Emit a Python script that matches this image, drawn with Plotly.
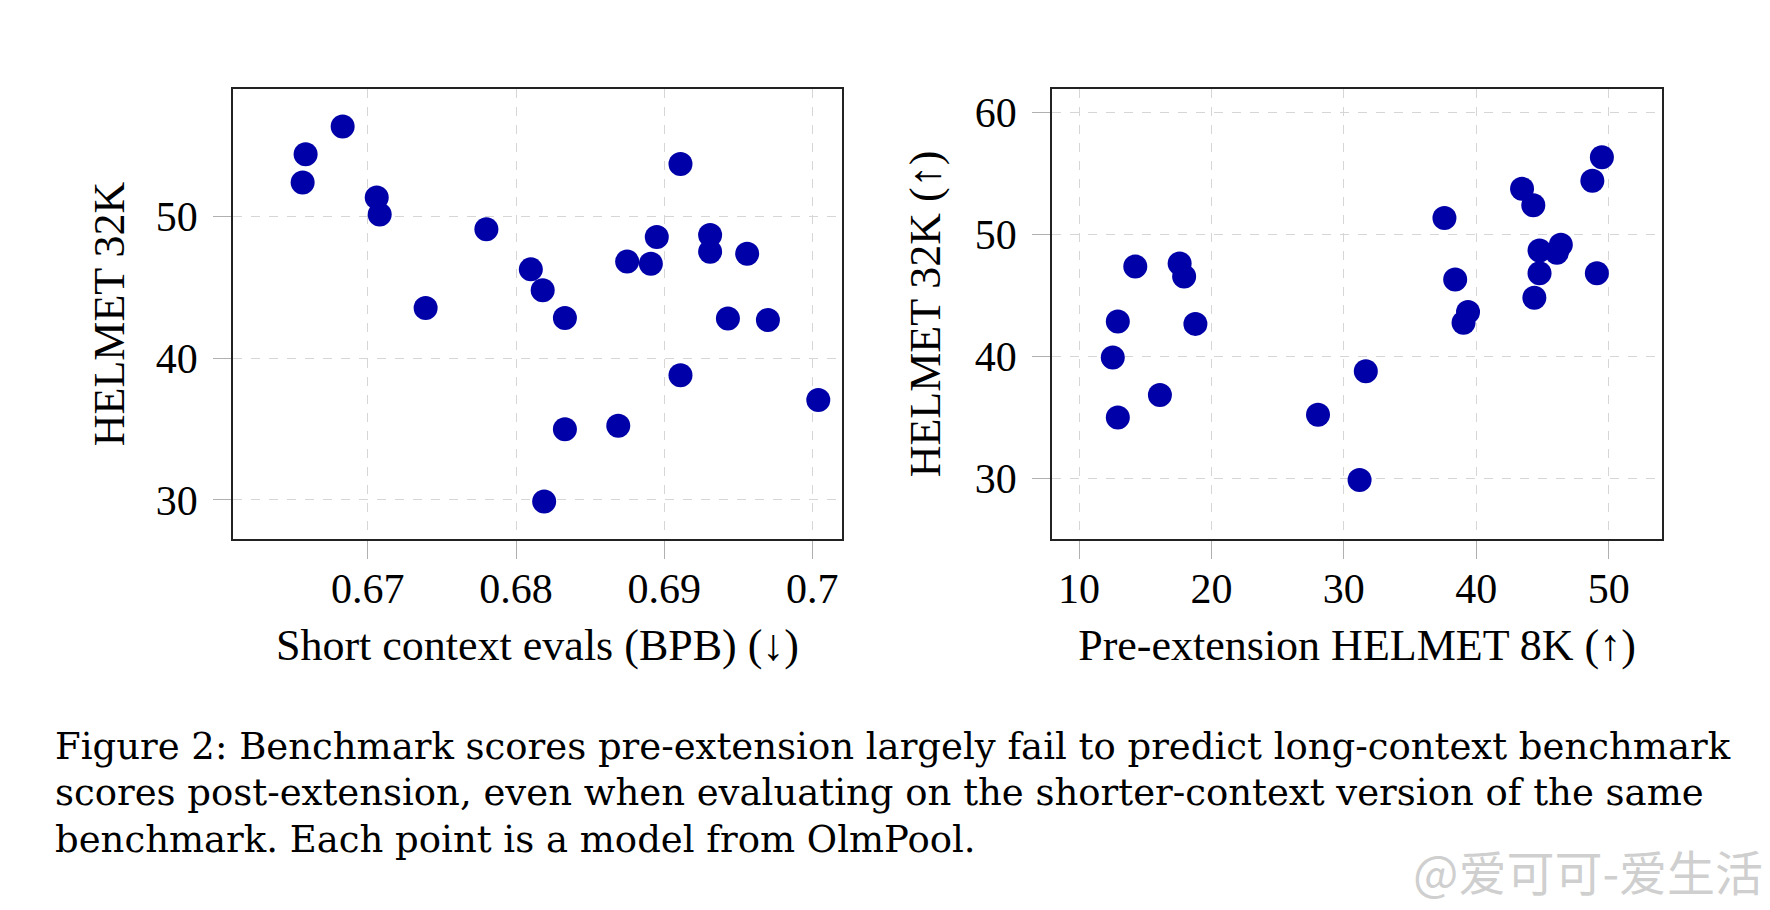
import plotly.graph_objects as go

# left panel: short context BPB vs HELMET 32K
bpb = [0.6658, 0.6656, 0.6683, 0.6706, 0.6708, 0.6780, 0.6739, 0.6810, 0.6818,
       0.6833, 0.6833, 0.6819, 0.6869, 0.6875, 0.6891, 0.6895, 0.6911, 0.6911,
       0.6931, 0.6931, 0.6956, 0.6943, 0.6970, 0.7004]
helmet32k_left = [54.4, 52.4, 56.35, 51.34, 50.14, 49.1, 43.54, 46.27, 44.79,
                  42.84, 34.99, 29.89, 35.24, 46.82, 46.66, 48.55, 53.70, 38.80,
                  48.69, 47.52, 47.38, 42.81, 42.70, 37.05]

# right panel: pre-extension HELMET 8K vs HELMET 32K
helmet8k = [14.25, 17.60, 17.94, 12.93, 18.79, 12.55, 16.11, 12.93, 28.05, 31.66,
            31.19, 37.60, 38.41, 39.38, 39.04, 43.46, 44.31, 44.78, 44.78, 44.39,
            46.09, 46.39, 48.77, 49.49, 49.11]
helmet32k_right = [47.38, 47.64, 46.57, 42.87, 42.68, 39.93, 36.85, 35.0, 35.23, 38.79,
                   29.88, 51.36, 46.31, 43.65, 42.78, 53.76, 52.40, 48.70, 46.83, 44.82,
                   48.51, 49.16, 54.41, 56.35, 46.83]

left_xticks = [0.67, 0.68, 0.69, 0.70]
left_xticktext = ["0.67", "0.68", "0.69", "0.7"]
left_yticks = [30, 40, 50]
right_xticks = [10, 20, 30, 40, 50]
right_yticks = [30, 40, 50, 60]

caption = [
    "Figure 2: Benchmark scores pre-extension largely fail to predict long-context benchmark",
    "scores post-extension, even when evaluating on the shorter-context version of the same",
    "benchmark. Each point is a model from OlmPool.",
]

W, H = 1770, 910
FONT = "Liberation Serif"
CAPFONT = "DejaVu Serif"
DOT = "#0000a8"

fig = go.Figure()
fig.add_trace(go.Scatter(x=bpb, y=helmet32k_left, mode="markers",
                         marker=dict(color=DOT, size=24), xaxis="x", yaxis="y",
                         showlegend=False))
fig.add_trace(go.Scatter(x=helmet8k, y=helmet32k_right, mode="markers",
                         marker=dict(color=DOT, size=24), xaxis="x2", yaxis="y2",
                         showlegend=False))

axis_common = dict(
    showline=True, linecolor="#222222", linewidth=1.6, mirror=True,
    showgrid=True, gridcolor="#d6d6d6", griddash="dash", gridwidth=1.3,
    ticks="outside", ticklen=18, tickcolor="#b0b0b0", tickwidth=1,
    zeroline=False, tickfont=dict(family=FONT, size=42, color="black"),
)

ydom = [1 - 539 / H, 1 - 89 / H]

fig.update_layout(
    width=W, height=H,
    margin=dict(l=0, r=0, t=0, b=0),
    paper_bgcolor="white", plot_bgcolor="white",
    font=dict(family=FONT, color="black"),
    xaxis=dict(axis_common, domain=[233 / W, 842 / W], range=[0.6609, 0.702],
               tickvals=left_xticks, ticktext=left_xticktext, anchor="y",
               ticklabelstandoff=-6,
               title=dict(text="Short context evals (BPB) (↓)",
                          font=dict(family=FONT, size=44), standoff=18)),
    yaxis=dict(axis_common, domain=ydom, range=[27.24, 59.0],
               tickvals=left_yticks, anchor="x", ticklabelstandoff=7,
               title=dict(text="HELMET 32K", font=dict(family=FONT, size=44),
                          standoff=17)),
    xaxis2=dict(axis_common, domain=[1052 / W, 1662 / W], range=[7.96, 54.03],
                tickvals=right_xticks, anchor="y2", ticklabelstandoff=-6,
                title=dict(text="Pre-extension HELMET 8K (↑)",
                           font=dict(family=FONT, size=44), standoff=18)),
    yaxis2=dict(axis_common, domain=ydom, range=[25.04, 61.94],
                tickvals=right_yticks, anchor="x2", ticklabelstandoff=7,
                title=dict(text="HELMET 32K (↑)", font=dict(family=FONT, size=44),
                           standoff=20)),
)

# caption lines
for i, line in enumerate(caption):
    fig.add_annotation(text=line, x=53 / W, y=1 - (746 + 46.5 * i) / H,
                       xref="paper", yref="paper", xanchor="left", yanchor="middle",
                       showarrow=False, font=dict(family=CAPFONT, size=37, color="black"))

# watermark
fig.add_annotation(text="@爱可可-爱生活", x=1765 / W, y=1 - 870 / H,
                   xref="paper", yref="paper", xanchor="right", yanchor="middle",
                   showarrow=False,
                   font=dict(family="Noto Sans CJK SC", size=48, color="rgba(160,160,160,0.5)"))

fig.write_html("out.html", config={"displayModeBar": False},
               post_script="document.body.style.margin = '0';")
